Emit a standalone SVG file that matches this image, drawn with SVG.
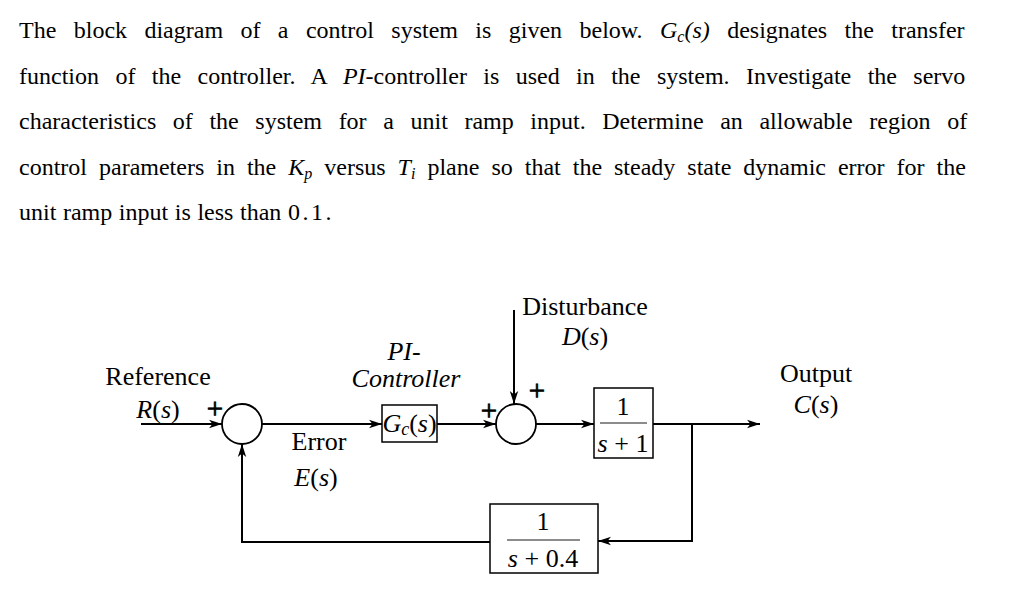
<svg xmlns="http://www.w3.org/2000/svg" width="1024" height="604" viewBox="0 0 1024 604">
<defs>
<marker id="arr" markerUnits="userSpaceOnUse" markerWidth="14" markerHeight="10" refX="13" refY="5" orient="auto">
<path d="M0,0.8 L13,5 L0,9.2 L3.5,5 Z" fill="#000"/>
</marker>
</defs>
<style>
.p{font-family:"Liberation Serif","Times New Roman",serif;font-size:24px;fill:#000}
.l{font-family:"Liberation Serif","Times New Roman",serif;font-size:26px;fill:#000}
.pl{font-family:"Liberation Serif","Times New Roman",serif;font-size:29px;fill:#000;stroke:#000;stroke-width:0.8;text-anchor:middle}
.m{text-anchor:middle}
.i{font-style:italic}
.w{stroke:#000;stroke-width:2;fill:none}
.b{stroke:#000;stroke-width:1.5;fill:#fff}
.c{stroke:#000;stroke-width:1.8;fill:#fff}
.fr{stroke:#666;stroke-width:1.5}
</style>
<rect width="1024" height="604" fill="#fff"/>
<g id="problem-text">
<text class="p" x="19" y="38" word-spacing="11.4">The block diagram of a control system is given below. <tspan class="i">G<tspan font-size="16" dy="4">c</tspan><tspan dy="-4">(s)</tspan></tspan> designates the transfer</text>
<text class="p" x="19" y="83.5" word-spacing="10.4">function of the controller. A <tspan class="i">PI</tspan>-controller is used in the system. Investigate the servo</text>
<text class="p" x="19" y="129" word-spacing="10.6">characteristics of the system for a unit ramp input. Determine an allowable region of</text>
<text class="p" x="19" y="174.5" word-spacing="6">control parameters in the <tspan class="i">K<tspan font-size="16" dy="4">p</tspan></tspan><tspan dy="-4"> versus </tspan><tspan class="i">T<tspan font-size="16" dy="4">i</tspan></tspan><tspan dy="-4"> plane so that the steady state dynamic error for the</tspan></text>
<text class="p" x="19" y="220" word-spacing="0.6">unit ramp input is less than <tspan letter-spacing="2.5">0.1.</tspan></text>
</g>
<g id="connectors">
<path class="w" d="M141,424 H222" marker-end="url(#arr)"/>
<path class="w" d="M262,424 H382" marker-end="url(#arr)"/>
<path class="w" d="M437,424 H496" marker-end="url(#arr)"/>
<path class="w" d="M514,310 V404" marker-end="url(#arr)"/>
<path class="w" d="M536,424 H594" marker-end="url(#arr)"/>
<path class="w" d="M653,424 H760" marker-end="url(#arr)"/>
<path class="w" d="M692,424 V541 H598" marker-end="url(#arr)"/>
<path class="w" d="M490,542 H242 V444" marker-end="url(#arr)"/>
</g>
<g id="reference-input">
<text class="l m" x="158" y="385">Reference</text>
<text class="l m" x="158" y="418"><tspan class="i">R</tspan>(<tspan class="i">s</tspan>)</text>
</g>
<g id="sum1">
<circle class="c" cx="242" cy="424" r="20"/>
<text class="pl" x="215" y="418">+</text>
</g>
<g id="error-label">
<text class="l m" x="319" y="450">Error</text>
<text class="l m" x="316" y="486"><tspan class="i">E</tspan>(<tspan class="i">s</tspan>)</text>
</g>
<g id="controller">
<text class="l m i" x="404" y="360">PI-</text>
<text class="l m i" x="406" y="387">Controller</text>
<rect class="b" x="382" y="405" width="55" height="37"/>
<text class="l m" x="409.5" y="432"><tspan class="i">G</tspan><tspan class="i" font-size="18" dy="3">c</tspan><tspan dy="-3">(</tspan><tspan class="i">s</tspan>)</text>
</g>
<g id="disturbance">
<text class="l m" x="585" y="315">Disturbance</text>
<text class="l m" x="585" y="345"><tspan class="i">D</tspan>(<tspan class="i">s</tspan>)</text>
</g>
<g id="sum2">
<circle class="c" cx="516" cy="424" r="20"/>
<text class="pl" x="489" y="420">+</text>
<text class="pl" x="537" y="400">+</text>
</g>
<g id="plant">
<rect class="b" x="594" y="388" width="59" height="70"/>
<line class="fr" x1="600" y1="423" x2="647" y2="423"/>
<text class="l m" x="623" y="415">1</text>
<text class="l m" x="623" y="452"><tspan class="i">s</tspan> + 1</text>
</g>
<g id="output">
<text class="l m" x="816" y="382">Output</text>
<text class="l m" x="816" y="413"><tspan class="i">C</tspan>(<tspan class="i">s</tspan>)</text>
</g>
<g id="feedback">
<rect class="b" x="490" y="504" width="108" height="69"/>
<line class="fr" x1="507" y1="540" x2="580" y2="540"/>
<text class="l m" x="543" y="530">1</text>
<text class="l m" x="543" y="567"><tspan class="i">s</tspan> + 0.4</text>
</g>
</svg>
